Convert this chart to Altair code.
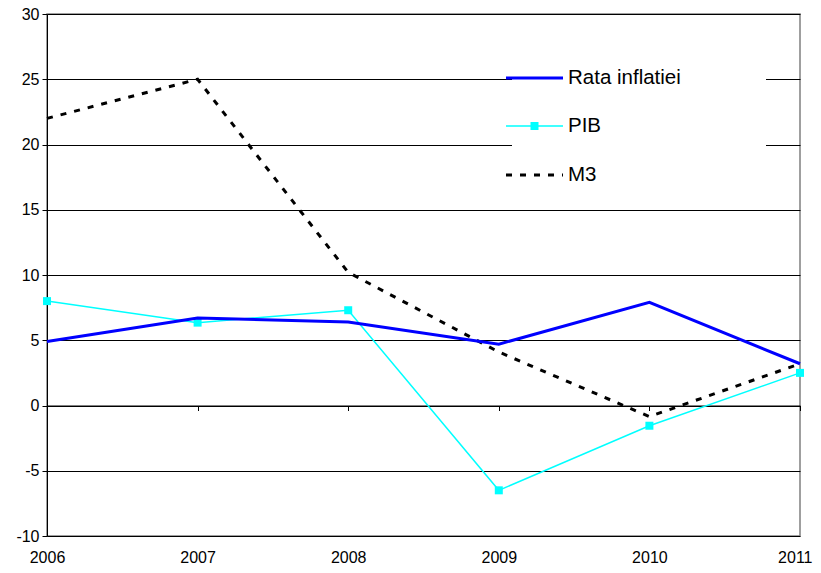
import altair as alt
import pandas as pd

years = [2006, 2007, 2008, 2009, 2010, 2011]
rata_inflatiei = [4.9, 6.7, 6.4, 4.7, 7.9, 3.2]
pib = [8.0, 6.35, 7.3, -6.5, -1.55, 2.5]
m3 = [22.0, 25.0, 10.2, 4.1, -0.85, 3.2]
series_names = ["Rata inflatiei", "PIB", "M3"]
y_ticks = [-10, -5, 0, 5, 10, 15, 20, 25, 30]

FONT = "Liberation Sans"
W, H = 753, 522

df = pd.DataFrame({
    "year": years * 3,
    "value": rata_inflatiei + pib + m3,
    "series": [series_names[0]] * 6 + [series_names[1]] * 6 + [series_names[2]] * 6,
})

x_enc = alt.X("year:Q",
              scale=alt.Scale(domain=[2006, 2011], nice=False, zero=False),
              axis=alt.Axis(values=years, format="d", title=None, grid=False,
                            offset=-130.5, domainColor="black", tickColor="black",
                            tickSize=5, labelPadding=139, labelFont=FONT,
                            labelFontSize=16, labelColor="black",
                            labelFlush=False, labelOverlap=False,
                            labelAlign=alt.condition("datum.value == 2011",
                                                     alt.value("right"), alt.value("center")),
                            labelOffset=alt.condition("datum.value == 2011",
                                                      alt.value(12), alt.value(0))))
y_enc = alt.Y("value:Q",
              scale=alt.Scale(domain=[-10, 30], nice=False),
              axis=alt.Axis(values=y_ticks, title=None, grid=True,
                            gridColor="black", gridWidth=1, gridOpacity=1,
                            domainColor="black", tickColor="black", tickSize=5,
                            labelFont=FONT, labelFontSize=16, labelColor="black",
                            labelPadding=3, labelFlush=False,
                            labelExpr="datum.value + ''"))

grid_layer = alt.Chart(df).mark_line(opacity=0).encode(x=x_enc, y=y_enc)

base = alt.Chart(df)
infl = base.transform_filter(alt.datum.series == series_names[0]).mark_line(
    color="#0000FF", strokeWidth=3).encode(x="year:Q", y="value:Q")
pib_line = base.transform_filter(alt.datum.series == series_names[1]).mark_line(
    color="#00FFFF", strokeWidth=1.5).encode(x="year:Q", y="value:Q")
pib_pts = base.transform_filter(alt.datum.series == series_names[1]).mark_square(
    color="#00FFFF", size=64, opacity=1).encode(x="year:Q", y="value:Q")
m3_line = base.transform_filter(alt.datum.series == series_names[2]).mark_line(
    color="black", strokeWidth=3, strokeDash=[6, 8]).encode(x="year:Q", y="value:Q")

one = pd.DataFrame({"k": [0]})
leg_box = alt.Chart(one).mark_rect(color="white").encode(
    x=alt.value(465), x2=alt.value(719), y=alt.value(36), y2=alt.value(186))

leg_y = [64, 112, 161]
legend_layers = [leg_box]
styles = [
    dict(color="#0000FF", strokeWidth=3),
    dict(color="#00FFFF", strokeWidth=1.5),
    dict(color="black", strokeWidth=3, strokeDash=[6, 8]),
]
for name, ly, st in zip(series_names, leg_y, styles):
    legend_layers.append(alt.Chart(one).mark_rule(**st).encode(
        x=alt.value(459), x2=alt.value(516), y=alt.value(ly)))
    legend_layers.append(alt.Chart(one).mark_text(
        text=name, align="left", baseline="middle", font=FONT, fontSize=20.5,
        color="black").encode(x=alt.value(521), y=alt.value(ly)))
legend_layers.append(alt.Chart(one).mark_square(color="#00FFFF", size=64, opacity=1).encode(
    x=alt.value(487.5), y=alt.value(leg_y[1])))

chart = alt.layer(grid_layer, m3_line, pib_line, pib_pts, infl, *legend_layers).properties(
    width=W, height=H,
    autosize=alt.AutoSizeParams(type="none"),
    padding={"left": 39, "top": 6, "right": 13, "bottom": 30},
    background="white",
).configure_view(stroke="#808080", strokeWidth=1.5)

chart.save("out.html", embed_options={"renderer": "svg", "actions": False})
